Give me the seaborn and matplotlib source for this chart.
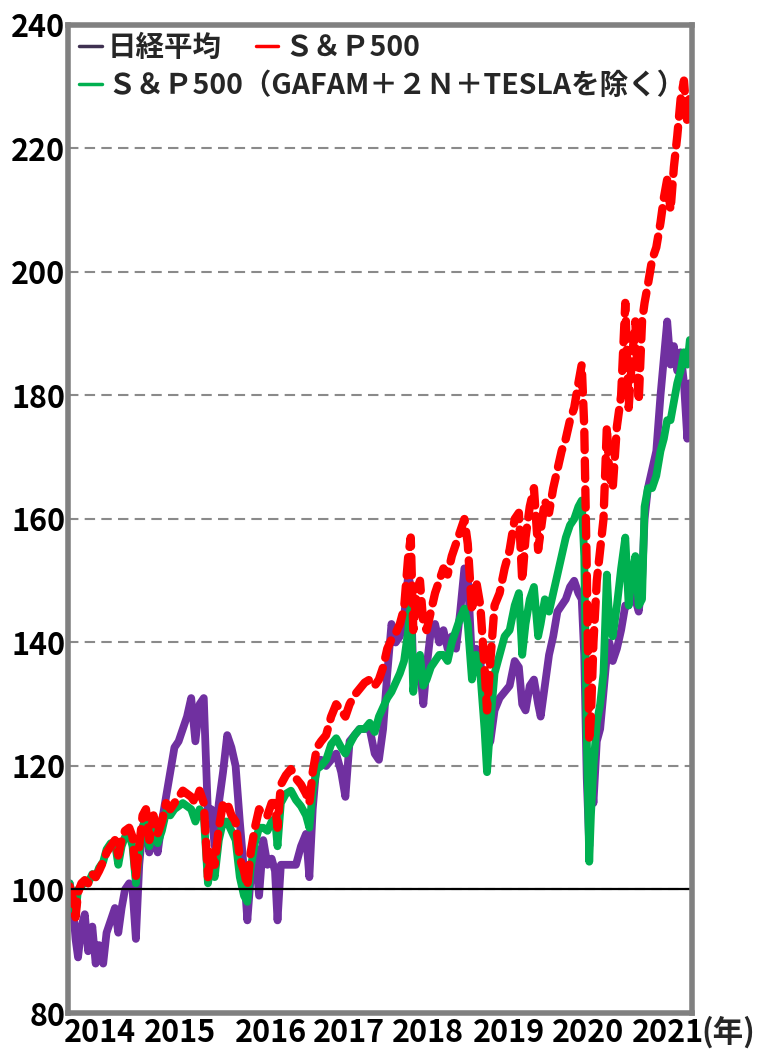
import matplotlib
matplotlib.use("Agg")
import matplotlib.pyplot as plt
from matplotlib.lines import Line2D
import seaborn as sns

# ---------------- data ----------------
dates = [
    2014.00, 2014.03, 2014.07, 2014.10, 2014.14, 2014.18, 2014.22, 2014.27, 2014.31, 2014.35, 2014.40, 2014.44,
    2014.49, 2014.54, 2014.58, 2014.62, 2014.66, 2014.71, 2014.75, 2014.79, 2014.83, 2014.87, 2014.91, 2014.95,
    2015.00, 2015.05, 2015.10, 2015.15, 2015.20, 2015.25, 2015.30, 2015.35, 2015.40, 2015.45, 2015.50, 2015.55,
    2015.60, 2015.65, 2015.69, 2015.73, 2015.78, 2015.83, 2015.88, 2015.93, 2015.98,
    2016.03, 2016.08, 2016.12, 2016.16, 2016.21, 2016.26, 2016.31, 2016.36, 2016.41, 2016.45, 2016.48, 2016.52,
    2016.58, 2016.64, 2016.70, 2016.76, 2016.82, 2016.86, 2016.90, 2016.95,
    2017.00, 2017.06, 2017.12, 2017.18, 2017.24, 2017.29, 2017.34, 2017.40, 2017.46, 2017.52, 2017.58, 2017.64,
    2017.69, 2017.74, 2017.79, 2017.84, 2017.89, 2017.94, 2017.99,
    2018.04, 2018.07, 2018.10, 2018.14, 2018.18, 2018.22, 2018.26, 2018.31, 2018.36, 2018.41, 2018.46, 2018.51,
    2018.56, 2018.61, 2018.66, 2018.71, 2018.75, 2018.80, 2018.85, 2018.90, 2018.95, 2018.98,
    2019.02, 2019.07, 2019.13, 2019.19, 2019.25, 2019.31, 2019.36, 2019.40, 2019.44, 2019.49, 2019.54, 2019.59,
    2019.62, 2019.67, 2019.72, 2019.77, 2019.82, 2019.87, 2019.92, 2019.97,
    2020.02, 2020.07, 2020.11, 2020.14, 2020.17, 2020.20, 2020.22, 2020.25, 2020.29, 2020.33, 2020.37, 2020.41,
    2020.44, 2020.48, 2020.53, 2020.58, 2020.63, 2020.67, 2020.71, 2020.75, 2020.79, 2020.83, 2020.86, 2020.90,
    2020.95,
    2021.00, 2021.05, 2021.09, 2021.13, 2021.17, 2021.21, 2021.25, 2021.29, 2021.33, 2021.37, 2021.40,
]

nikkei = [
    101, 99, 92, 89, 94, 96, 90, 94, 88, 91, 88, 93, 95, 97, 93, 97, 100, 101, 100, 92, 104, 110, 112, 106,
    110, 106, 111, 115, 119, 123, 124, 126, 128, 131, 124, 130, 131, 112, 113, 107, 114, 119, 125, 123, 120,
    111, 103, 95, 102, 107, 99, 108, 104, 105, 103, 95, 104, 104, 104, 104, 107, 109, 102, 113, 121,
    121, 120, 121, 122, 119, 115, 124, 125, 126, 126, 126, 122, 121, 126, 135, 143, 140, 141, 144,
    151, 149, 135, 137, 136, 130, 136, 142, 143, 140, 142, 139, 141, 139, 145, 152, 151, 137, 139, 137, 130, 123,
    124, 129, 131, 132, 133, 137, 136, 130, 129, 133, 134, 130, 128, 133, 138, 141, 145, 146, 147, 149,
    150, 148, 147, 138, 118, 107, 120, 114, 124, 126, 132, 138, 140, 137, 139, 142, 146, 146, 148, 147, 145, 150,
    160, 165, 168,
    171, 180, 186, 192, 185, 188, 184, 187, 182, 173, 182,
]

sp500 = [
    100.5, 99, 95.5, 99.5, 101, 101.5, 101, 102.5, 102, 103, 104.5, 106, 107, 108, 105.5, 108, 109.5, 110, 108.5,
    102, 107, 112, 113, 108,
    112, 109, 111, 114, 113, 114, 115, 116, 115.5, 115, 114, 116, 114, 102, 106, 104, 110, 114, 114, 112, 111,
    105, 103, 100.5, 106, 110, 113, 112, 112, 114, 114, 110, 117, 118.5, 119.5, 118, 117, 115.5, 114, 119, 123,
    124, 125, 128, 130, 129, 128, 130, 131.5, 132.5, 133.5, 134, 133, 134, 136, 139, 140.5, 141.5, 143, 145.5,
    154, 157, 142, 148, 150, 143, 142, 145, 148, 150, 152, 151, 154, 156, 158, 160, 156, 145, 150, 146, 136, 129,
    137, 146, 148, 152, 155, 160, 161, 150, 157, 162, 165, 155, 158, 163, 161, 165, 168, 171, 173, 176,
    178, 182, 185, 175, 152, 124, 128, 140, 150, 155, 160, 175, 167, 165, 175, 180, 195, 178, 186, 192, 179, 192,
    195, 198, 202,
    204, 208, 212, 215, 210, 217, 222, 228, 231, 224, 229,
]

sp500_ex = [
    101, 98.5, 96, 100, 100.5, 101.5, 101, 102.5, 102, 103.5, 104.5, 106.5, 107.5, 107.5, 104, 107, 108.5, 109,
    107, 101, 106, 110, 111.5, 107,
    110.5, 107.5, 109.5, 112.5, 112, 113, 113.5, 114, 113.5, 113, 111, 113, 112, 101, 104.5, 102, 108, 111, 111,
    109.5, 108,
    102, 99, 98, 103.5, 107.5, 110, 110, 109.5, 111, 111.5, 107, 114, 115.5, 116, 114.5, 113.5, 112, 110, 116,
    119.5,
    120, 121, 123.5, 124.5, 123, 122, 123.5, 125, 126, 126, 127, 125.5, 128, 129.5, 131, 132, 133.5, 135, 137,
    142, 146, 132, 137, 138, 133, 134, 136, 137, 138, 138, 137, 140, 142, 144, 145.5, 143, 134, 138, 135, 126, 119,
    127, 135, 138, 141, 142, 146, 148, 138, 143, 147, 149, 141, 143, 147, 145, 148, 151, 154, 157, 159,
    160, 162, 163, 154, 125, 104.5, 112, 120, 127, 130, 135, 151, 143, 141, 146, 152, 157, 146, 151, 154, 146, 147,
    162, 165, 165,
    167, 171, 173, 176, 176, 179, 182, 184, 187, 185, 189,
]

series_labels = ["日経平均", "Ｓ＆Ｐ500", "Ｓ＆Ｐ500（GAFAM＋２Ｎ＋TESLAを除く）"]
series_colors = ["#7030A0", "#FF0000", "#00B050"]
legend_colors = ["#3F3151", "#FF0000", "#00B050"]
y_ticks = [80, 100, 120, 140, 160, 180, 200, 220, 240]
x_tick_labels = ["2014", "2015", "2016", "2017", "2018", "2019", "2020", "2021"]
x_tick_pos = [2014.36, 2015.32, 2016.40, 2017.33, 2018.28, 2019.24, 2020.19, 2021.14]
year_unit = "(年)"

assert len(dates) == len(nikkei) == len(sp500) == len(sp500_ex)

# ---------------- style ----------------
sns.set_style("white")
plt.rcParams["font.family"] = ["Noto Sans CJK JP", "DejaVu Sans"]

W, H = 769, 1051
fig = plt.figure(figsize=(W / 100, H / 100), dpi=100)
left, right, top, bottom = 68, 691.5, 25, 1013
ax = fig.add_axes([left / W, 1 - bottom / H, (right - left) / W, (bottom - top) / H])

# grid
ax.set_yticks(y_ticks)
ax.yaxis.grid(True, color="#8a8a8a", linestyle=(0, (5, 3)), linewidth=1.5, zorder=0)
ax.xaxis.grid(False)
ax.set_axisbelow(True)

# lines
sns.lineplot(x=dates, y=nikkei, color=series_colors[0], linewidth=5.6, ax=ax, estimator=None, sort=False,
             solid_capstyle="round", solid_joinstyle="round", zorder=2)
sns.lineplot(x=dates, y=sp500_ex, color=series_colors[2], linewidth=5.6, ax=ax, estimator=None, sort=False,
             solid_capstyle="round", solid_joinstyle="round", zorder=3)
sns.lineplot(x=dates, y=sp500, color=series_colors[1], linewidth=6, ax=ax, estimator=None, sort=False,
             linestyle=(0, (2.2, 1.25)), dash_capstyle="round", dash_joinstyle="round", zorder=4)

ax.axhline(100, color="black", linewidth=1.6, zorder=5)

ax.set_xlim(2013.98, 2021.42)
ax.set_ylim(80, 240)
ax.set_xticks(x_tick_pos)
ax.set_xticklabels(x_tick_labels)
ax.set_xlabel("")
ax.set_ylabel("")
ax.tick_params(axis="both", length=0, labelsize=22, colors="black")
ax.tick_params(axis="y", pad=2)
ax.tick_params(axis="x", pad=3)
for lab in ax.get_xticklabels() + ax.get_yticklabels():
    lab.set_fontweight("bold")

for s in ax.spines.values():
    s.set_color("#808080")
    s.set_linewidth(4)
    s.set_zorder(6)

# unit label
fig.text(701 / W, 1 - 1016 / H, year_unit, ha="left", va="top", fontsize=22, fontweight="bold")

# legends
handles = [Line2D([0], [0], color=c, linewidth=2.5) for c in legend_colors]
leg_kw = dict(frameon=False, handlelength=0.8, handletextpad=0.2, borderpad=0,
              borderaxespad=0, loc="upper left", bbox_transform=fig.transFigure,
              prop={"weight": "bold", "size": 20.5})
leg1 = ax.legend(handles=[handles[0], handles[1]], labels=[series_labels[0], series_labels[1]], ncol=2,
                 columnspacing=1.2, bbox_to_anchor=(79 / W, 1 - 34 / H), **leg_kw)
ax.add_artist(leg1)
leg2 = ax.legend(handles=[handles[2]], labels=[series_labels[2]], bbox_to_anchor=(79 / W, 1 - 72 / H), **leg_kw)
leg1.set_zorder(7)
leg2.set_zorder(7)

fig.savefig("out.png", dpi=100)
